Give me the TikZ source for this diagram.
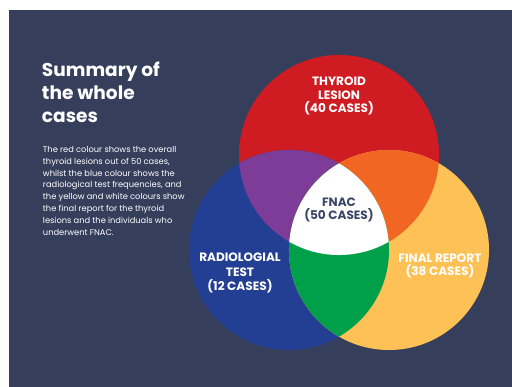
\documentclass[tikz,border=0pt]{standalone}
\usepackage{fontspec}
\setmainfont{Poppins}
\definecolor{bgnavy}{HTML}{353F5C}
\definecolor{vred}{HTML}{CF1B22}
\definecolor{vblue}{HTML}{233F94}
\definecolor{vyellow}{HTML}{FDC155}
\definecolor{vpurple}{HTML}{7D3C97}
\definecolor{vorange}{HTML}{F26623}
\definecolor{vgreen}{HTML}{00A04A}
\definecolor{fnactext}{HTML}{3B4566}
\tikzset{
	venntext/.style={text=white, align=center, font=\bfseries\fontsize{8.6}{9.6}\selectfont},
	titletext/.style={text=white, anchor=north west, align=left, font=\bfseries\fontsize{13.2}{16.3}\selectfont},
	bodytext/.style={text=white, anchor=north west, align=left, font=\fontsize{5.9}{8.5}\selectfont},
}

\begin{document}
\begin{tikzpicture}[x=0.025cm, y=-0.025cm]
			\useasboundingbox (0, 0) rectangle (512, 387);
			\fill[bgnavy] (9, 10) rectangle (512, 387);
			\coordinate (R) at (339, 155);
			\coordinate (B) at (289, 250);
			\coordinate (Y) at (389, 250);
			\fill[vred] (R) circle[radius=2.5cm];
			\fill[vblue] (B) circle[radius=2.5cm];
			\fill[vyellow] (Y) circle[radius=2.5cm];
			\begin{scope}
				\clip (R) circle[radius=2.5cm];
				\fill[vpurple] (B) circle[radius=2.5cm];
				\fill[vorange] (Y) circle[radius=2.5cm];
			\end{scope}
			\begin{scope}
				\clip (B) circle[radius=2.5cm];
				\fill[vgreen] (Y) circle[radius=2.5cm];
				\clip (R) circle[radius=2.5cm];
				\fill[white] (Y) circle[radius=2.5cm];
			\end{scope}
			\node[titletext](T1) at (37, 57){Summary of\\the whole\\cases};
			\node[bodytext](T2) at (38, 141){The red colour shows the overall\\thyroid lesions out of 50 cases,\\whilst the blue colour shows the\\radiological test frequencies, and\\the yellow and white colours show\\the final report for the thyroid\\lesions and the individuals who\\underwent FNAC.};
			\node[venntext](N1) at (339, 96){THYROID\\LESION\\(40 CASES)};
			\node[venntext, text=fnactext](N2) at (339, 210){FNAC\\(50 CASES)};
			\node[venntext, font=\bfseries\fontsize{8.6}{10.4}\selectfont](N3) at (240, 273){RADIOLOGIAL\\TEST\\(12 CASES)};
			\node[venntext](N4) at (440, 266){FINAL REPORT\\(38 CASES)};
		\end{tikzpicture}
\end{document}
